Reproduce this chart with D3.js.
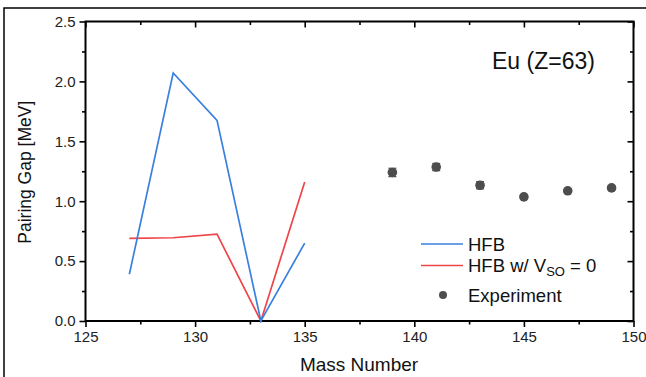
<!DOCTYPE html>
<html>
<head>
<meta charset="utf-8">
<script src="https://cdn.jsdelivr.net/npm/d3@7"></script>
<style>
  html, body { margin: 0; padding: 0; background: #fff; }
  svg { display: block; font-family: "Liberation Sans", Arial, sans-serif; }
</style>
</head>
<body>
<svg id="chart" width="646" height="377"></svg>
<script>
// Pairing gap of europium isotopes: HFB calculations vs. experiment
const massTheory = [127, 129, 131, 133, 135];
const gapHFB     = [0.39, 2.07, 1.675, 0.0, 0.65];
const gapHFBnoSO = [0.69, 0.695, 0.725, 0.0, 1.16];

const massExp = [139, 141, 143, 145, 147, 149];
const gapExp  = [1.24, 1.285, 1.133, 1.036, 1.087, 1.111];
const errExp  = [0.035, 0.03, 0.03, 0.015, 0.015, 0.015];

const xTickValues = [125, 130, 135, 140, 145, 150];
const yTickValues = [0.0, 0.5, 1.0, 1.5, 2.0, 2.5];

const svg = d3.select("#chart");
const W = 646, H = 377;
const plot = { left: 85.5, right: 633.5, top: 21.5, bottom: 321 };

const blue = "#3a80de";
const red = "#ef4448";
const grey = "#4d4d4d";

const x = d3.scaleLinear().domain([125, 150]).range([plot.left, plot.right]);
const y = d3.scaleLinear().domain([0, 2.5]).range([plot.bottom, plot.top]);

// outer frame (top and left edges)
svg.append("path")
  .attr("d", `M4,${H} L4,8 L${W},8`)
  .attr("fill", "none").attr("stroke", "#000").attr("stroke-width", 1.5);

// minor tick positions
const xMinor = d3.range(127.5, 150, 5);
const yMinor = d3.range(0.25, 2.5, 0.5);

// bottom axis
svg.append("g").attr("transform", `translate(0,${plot.bottom})`)
  .call(d3.axisBottom(x).tickValues(xTickValues).tickFormat(d3.format("d")).tickSize(6).tickPadding(4));
svg.append("g").attr("transform", `translate(0,${plot.bottom})`)
  .call(d3.axisBottom(x).tickValues(xMinor).tickFormat("").tickSize(3.5));
// left axis
svg.append("g").attr("transform", `translate(${plot.left},0)`)
  .call(d3.axisLeft(y).tickValues(yTickValues).tickFormat(d3.format(".1f")).tickSize(6).tickPadding(4));
svg.append("g").attr("transform", `translate(${plot.left},0)`)
  .call(d3.axisLeft(y).tickValues(yMinor).tickFormat("").tickSize(3.5));
// top axis (inward ticks)
svg.append("g").attr("transform", `translate(0,${plot.top})`)
  .call(d3.axisTop(x).tickValues(xTickValues).tickFormat("").tickSize(-6));
svg.append("g").attr("transform", `translate(0,${plot.top})`)
  .call(d3.axisTop(x).tickValues(xMinor).tickFormat("").tickSize(-3.5));
// right axis (inward ticks)
svg.append("g").attr("transform", `translate(${plot.right},0)`)
  .call(d3.axisRight(y).tickValues(yTickValues).tickFormat("").tickSize(-6));
svg.append("g").attr("transform", `translate(${plot.right},0)`)
  .call(d3.axisRight(y).tickValues(yMinor).tickFormat("").tickSize(-3.5));

svg.selectAll(".domain").attr("stroke", "#000").attr("stroke-width", 2).attr("d", null);
svg.selectAll(".tick line").attr("stroke", "#000").attr("stroke-width", 1.6);
svg.selectAll(".tick text").attr("font-size", 15).attr("fill", "#222")
  .attr("font-family", "Liberation Sans, Arial, sans-serif");

// plot box
svg.append("rect")
  .attr("x", plot.left).attr("y", plot.top)
  .attr("width", plot.right - plot.left).attr("height", plot.bottom - plot.top)
  .attr("fill", "none").attr("stroke", "#000").attr("stroke-width", 2);

// axis titles
svg.append("text")
  .attr("x", 359).attr("y", 371)
  .attr("text-anchor", "middle").attr("font-size", 19).attr("fill", "#111")
  .text("Mass Number");
svg.append("text")
  .attr("transform", `translate(31,${(plot.top + plot.bottom) / 2 + 1}) rotate(-90)`)
  .attr("text-anchor", "middle").attr("font-size", 17.5).attr("fill", "#111")
  .text("Pairing Gap [MeV]");

// theory lines
const theory = massTheory.map((m, i) => ({ m, hfb: gapHFB[i], noso: gapHFBnoSO[i] }));
const lineHFB = d3.line().x(d => x(d.m)).y(d => y(d.hfb));
const lineNoSO = d3.line().x(d => x(d.m)).y(d => y(d.noso));
svg.append("path").datum(theory).attr("d", lineNoSO)
  .attr("fill", "none").attr("stroke", red).attr("stroke-width", 1.7);
svg.append("path").datum(theory).attr("d", lineHFB)
  .attr("fill", "none").attr("stroke", blue).attr("stroke-width", 1.7);

// experimental points with error bars
const exp = massExp.map((m, i) => ({ m, g: gapExp[i], e: errExp[i] }));
const eb = svg.append("g").attr("stroke", grey).attr("stroke-width", 1.2);
exp.forEach(d => {
  eb.append("line").attr("x1", x(d.m)).attr("x2", x(d.m))
    .attr("y1", y(d.g - d.e)).attr("y2", y(d.g + d.e));
  [d.g - d.e, d.g + d.e].forEach(v => {
    eb.append("line").attr("x1", x(d.m) - 4).attr("x2", x(d.m) + 4)
      .attr("y1", y(v)).attr("y2", y(v));
  });
});
svg.append("g").selectAll("circle").data(exp).join("circle")
  .attr("cx", d => x(d.m)).attr("cy", d => y(d.g)).attr("r", 4.8)
  .attr("fill", grey);

// element label
svg.append("text")
  .attr("x", 492).attr("y", 69)
  .attr("font-size", 23).attr("fill", "#111")
  .text("Eu (Z=63)");

// legend
const lg = svg.append("g").attr("font-size", 18.5).attr("fill", "#111");
lg.append("line").attr("x1", 421).attr("x2", 463).attr("y1", 244).attr("y2", 244)
  .attr("stroke", blue).attr("stroke-width", 1.7);
lg.append("text").attr("x", 468).attr("y", 250.5).text("HFB");
lg.append("line").attr("x1", 421).attr("x2", 463).attr("y1", 265.5).attr("y2", 265.5)
  .attr("stroke", red).attr("stroke-width", 1.7);
const t2 = lg.append("text").attr("x", 468).attr("y", 272);
t2.append("tspan").text("HFB w/ V");
t2.append("tspan").attr("font-size", 13).attr("dy", 4).text("SO");
t2.append("tspan").attr("dy", -4).text(" = 0");
lg.append("circle").attr("cx", 443).attr("cy", 295).attr("r", 4).attr("fill", grey);
lg.append("text").attr("x", 468).attr("y", 301.5).text("Experiment");
</script>
</body>
</html>
